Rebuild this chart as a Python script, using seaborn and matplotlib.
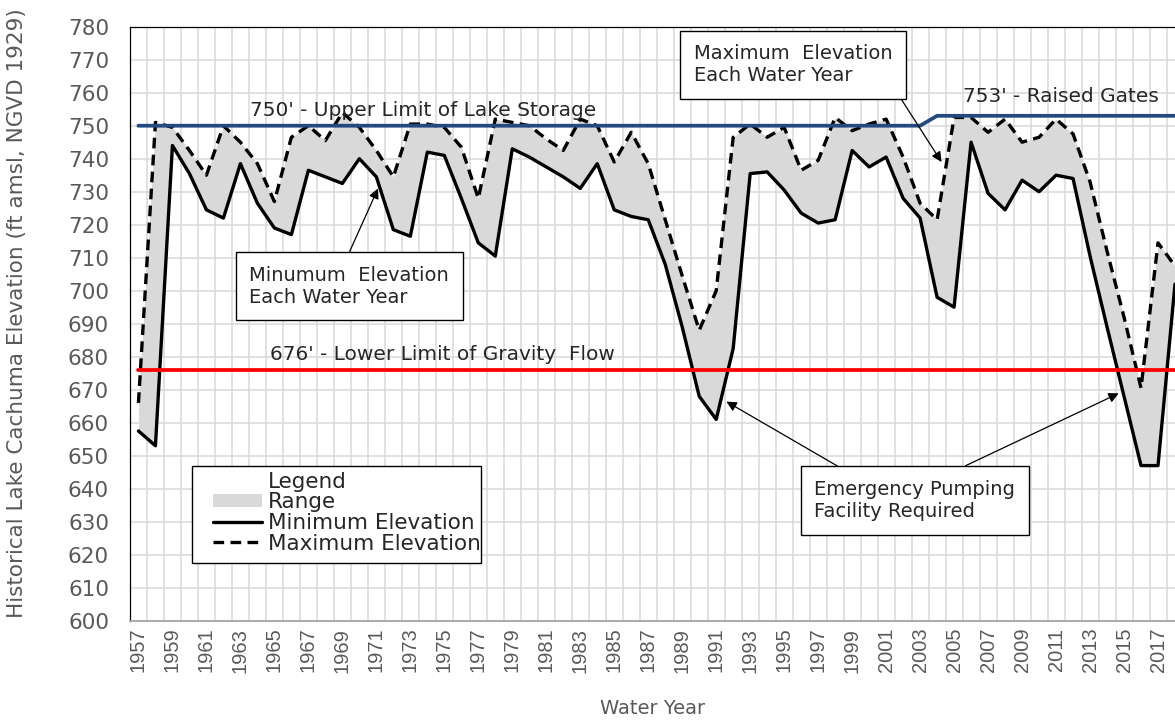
import numpy as np
import pandas as pd
import seaborn as sns
import matplotlib.pyplot as plt
from matplotlib.patches import Patch, Rectangle
from matplotlib.lines import Line2D

# Water years on the category axis
years = list(range(1957, 2019))

# Minimum lake elevation each water year (ft)
min_elev = [657.5, 653, 744, 735.5, 724.5, 722, 738.5, 726.5, 719, 717,
            736.5, 734.5, 732.5, 740, 734.5, 718.5, 716.5, 742, 741, 728,
            714.5, 710.5, 743, 740.5, 737.5, 734.5, 731, 738.5, 724.5, 722.5,
            721.5, 708, 689, 668, 661, 682.5, 735.5, 736, 730.5, 723.5,
            720.5, 721.5, 742.5, 737.5, 740.5, 728, 722, 698, 695, 745,
            729.5, 724.5, 733.5, 730, 735, 734, 710.5, 689, 668, 647,
            647, 702]

# Maximum lake elevation each water year (ft)
max_elev = [666, 751, 749.5, 742.5, 735, 750, 745, 738.5, 727, 746.5,
            750, 745.5, 754, 749.5, 742.5, 734.5, 750.5, 750.5, 749.5, 743.5,
            728, 752, 751, 750, 746, 742.5, 752, 750, 739, 748,
            738.5, 721.5, 704.5, 688, 700, 746.5, 750.5, 746.5, 749.5, 736.5,
            739.5, 752.5, 748.5, 750.5, 752, 740.5, 726.5, 721.5, 752.5, 752.5,
            748, 752, 745, 746.5, 752, 747.5, 733, 712, 692, 670.5,
            714.5, 707.5]

# Upper storage limit (750' until 2003, raised gates 753' from 2004)
storage_limit = [750] * 47 + [753] * 15
# Lower limit of gravity flow
gravity_limit = [676] * 62

df = pd.DataFrame({"year": years, "min": min_elev, "max": max_elev,
                   "storage": storage_limit, "gravity": gravity_limit})

sns.set_style("white")
plt.rcParams["font.family"] = ["DejaVu Sans"]

fig = plt.figure(figsize=(11.75, 7.28), dpi=100)
ax = fig.add_axes([0.1106, 0.1474, 0.8894, 0.8159])

grid_c = "#d9d9d9"
txt_gray = "#595959"

ax.fill_between(df["year"], df["min"], df["max"], color=grid_c, lw=0, zorder=2)
sns.lineplot(data=df, x="year", y="min", color="black", lw=2.4, ax=ax, zorder=3)
sns.lineplot(data=df, x="year", y="max", color="black", lw=2.4, ax=ax, zorder=3)
ax.lines[-1].set_dashes((3.2, 1.9))
sns.lineplot(data=df, x="year", y="storage", color="#234a80", lw=2.7, ax=ax, zorder=4)
sns.lineplot(data=df, x="year", y="gravity", color="#ff0000", lw=2.7, ax=ax, zorder=4)

ax.set_xlim(1956.5, 2018)
ax.set_ylim(600, 780)
ax.set_yticks(np.arange(600, 781, 10))
ax.set_xticks(years[::2])
ax.set_xticklabels([str(y) for y in years[::2]])
ax.set_xticks([y - 0.5 for y in years], minor=True)
ax.grid(False)
ax.grid(which="minor", axis="x", color=grid_c, lw=1.1, zorder=0)
ax.grid(which="major", axis="y", color=grid_c, lw=1.1, zorder=0)
ax.set_axisbelow(True)
ax.tick_params(axis="both", which="both", length=0, colors=txt_gray)
ax.tick_params(axis="y", pad=15, labelsize=15.5)
ax.tick_params(axis="x", pad=5, labelsize=14.5, labelrotation=90,
               labelfontfamily="Liberation Sans")

for s in ["top", "left"]:
    ax.spines[s].set_color("black")
    ax.spines[s].set_linewidth(0.9)
ax.spines["bottom"].set_color("#a6a6a6")
ax.spines["bottom"].set_linewidth(1.3)
ax.spines["right"].set_visible(False)

ax.set_xlabel("Water Year", fontsize=14, color=txt_gray, labelpad=19)
ax.set_ylabel("Historical Lake Cachuma Elevation (ft amsl, NGVD 1929)",
              fontsize=15.5, color=txt_gray)
ax.yaxis.set_label_coords(-0.0986, 0.518)

# Reference line labels
ax.text(1963.56, 752.9, "750' - Upper Limit of Lake Storage", fontsize=14.5, zorder=6)
ax.text(2005.52, 757.3, "753' - Raised Gates", fontsize=14.5, zorder=6)
ax.text(1964.74, 679.0, "676' - Lower Limit of Gravity  Flow", fontsize=14.5, zorder=6)

box = dict(boxstyle="square,pad=0.7", fc="white", ec="black", lw=1)
arrow = dict(arrowstyle="-|>", color="black", lw=0.9, mutation_scale=15,
             shrinkA=0, shrinkB=0)

ax.annotate("Maximum  Elevation\nEach Water Year", xy=(2004.26, 739),
            xytext=(1995.53, 768.4), ha="center", va="center", fontsize=14,
            multialignment="left", bbox=box, zorder=7,
            arrowprops=dict(arrow, relpos=(1, 0)))
ax.annotate("Minumum  Elevation\nEach Water Year", xy=(1971.1, 731.0),
            xytext=(1969.41, 701.4), ha="center", va="center", fontsize=14,
            multialignment="left", bbox=box, zorder=7,
            arrowprops=dict(arrow, relpos=(0.47, 1)))
ax.annotate("Emergency Pumping\nFacility Required", xy=(1991.6, 666.4),
            xytext=(2002.68, 636.4), ha="center", va="center", fontsize=14,
            multialignment="left", bbox=box, zorder=7,
            arrowprops=dict(arrow, relpos=(0.236, 1)))
ax.annotate("", xy=(2014.69, 668.9), xytext=(2005.68, 646.97),
            arrowprops=arrow, zorder=7)

# Legend box
ax.add_patch(Rectangle((0.0593, 0.0971), 0.2766, 0.1633, transform=ax.transAxes,
                       fc="white", ec="black", lw=1, zorder=8))
handles = [Line2D([], [], color="none"),
           Patch(facecolor=grid_c, edgecolor="none"),
           Line2D([], [], color="black", lw=2.4),
           Line2D([], [], color="black", lw=2.4, dashes=(3.2, 1.9))]
labels = ["Legend", "Range", "Minimum Elevation", "Maximum Elevation"]
leg = ax.legend(handles, labels, loc="upper left", bbox_to_anchor=(0.0794, 0.251),
                frameon=False, fontsize=15.5, handlelength=2.28, handleheight=0.55,
                handletextpad=0.28, labelspacing=0.03, borderpad=0, borderaxespad=0)
leg.set_zorder(9)

fig.savefig("out.png", dpi=100)
